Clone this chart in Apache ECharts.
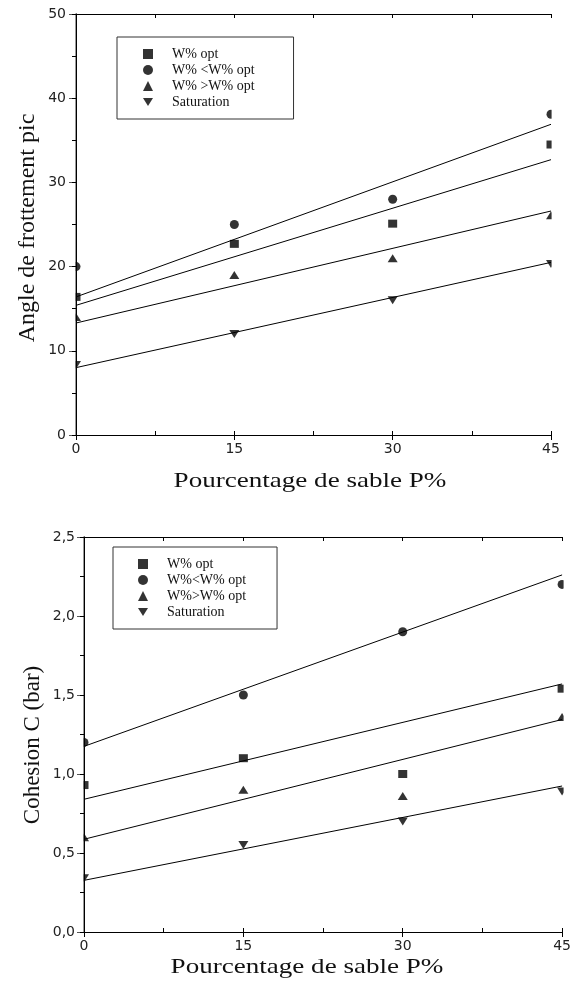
<!DOCTYPE html>
<html><head><meta charset="utf-8">
<script src="https://cdn.jsdelivr.net/npm/echarts@6/dist/echarts.min.js"></script>
<style>html,body{margin:0;padding:0;background:#fff}#c{width:574px;height:987px}</style>
</head><body><div id="c"></div>
<script>
// ---- data ----
const xVals = [0, 15, 30, 45];
const fitX = [0, 45];
const legendTop = ['W% opt', 'W% <W% opt', 'W% >W% opt', 'Saturation'];
const legendBot = ['W% opt', 'W%<W% opt', 'W%>W% opt', 'Saturation'];
// Angle de frottement (top)
const phiOpt  = [16.4, 22.7, 25.1, 34.5];
const phiLow  = [20.0, 25.0, 28.0, 38.1];
const phiHigh = [14.0, 19.0, 21.0, 26.1];
const phiSat  = [8.3, 12.0, 16.0, 20.3];
const phiOptFit  = [15.4, 32.7];
const phiLowFit  = [16.4, 36.9];
const phiHighFit = [13.3, 26.6];
const phiSatFit  = [8.0, 20.5];
// Cohesion (bottom)
const cOpt  = [0.93, 1.10, 1.00, 1.54];
const cLow  = [1.20, 1.50, 1.90, 2.20];
const cHigh = [0.60, 0.90, 0.86, 1.36];
const cSat  = [0.34, 0.55, 0.70, 0.89];
const cOptFit  = [0.84, 1.57];
const cLowFit  = [1.175, 2.26];
const cHighFit = [0.587, 1.345];
const cSatFit  = [0.327, 0.924];
const xTicks = [0, 15, 30, 45];
const yTicksTop = [0, 10, 20, 30, 40, 50];
const yTicksBot = ['0,0', '0,5', '1,0', '1,5', '2,0', '2,5'];

// ---- chart ----
const pair = (xs, ys) => xs.map((x, i) => [x, ys[i]]);
const downTri = 'path://M0,0 L10,0 L5,8 Z';
const symbols = [['rect', [9, 8]], ['circle', [9, 9]], ['triangle', [10, 8]], [downTri, [10, 8]]];
const labelFont = {fontFamily: 'DejaVu Sans', fontSize: 14, color: '#222'};

function axesFor(gi, ymax, yint, yminorInt, yfmt, labelMargin) {
  return {
    x: [
      {gridIndex: gi, type: 'value', min: 0, max: 45, interval: 15, position: 'bottom', z: 10,
       axisLine: {show: true, lineStyle: {color: '#000', width: 1}},
       axisTick: {show: true, length: 5, inside: false, lineStyle: {color: '#000'}},
       axisLabel: Object.assign({margin: 7, formatter: v => String(xTicks[xTicks.indexOf(v)] ?? v)}, labelFont),
       splitLine: {show: false}},
      {gridIndex: gi, type: 'value', min: 0, max: 45, interval: 7.5, position: 'bottom', z: 10,
       axisLine: {show: false}, axisTick: {show: true, inside: true, length: 4, lineStyle: {color: '#000'}},
       axisLabel: {show: false}, splitLine: {show: false}},
      {gridIndex: gi, type: 'value', min: 0, max: 45, interval: 7.5, position: 'top', z: 10,
       axisLine: {show: true, lineStyle: {color: '#000'}}, axisTick: {show: true, inside: true, length: 4, lineStyle: {color: '#000'}},
       axisLabel: {show: false}, splitLine: {show: false}}
    ],
    y: [
      {gridIndex: gi, type: 'value', min: 0, max: ymax, interval: yint, position: 'left', z: 10,
       axisLine: {show: true, lineStyle: {color: '#777', width: 1.5}},
       axisTick: {show: true, length: 7, lineStyle: {color: '#555'}},
       minorTick: {show: true, splitNumber: 2, length: 4, lineStyle: {color: '#555'}},
       axisLabel: Object.assign({margin: labelMargin, formatter: yfmt}, labelFont),
       splitLine: {show: false}, minorSplitLine: {show: false}},
      {gridIndex: gi, type: 'value', min: 0, max: ymax, interval: yminorInt, position: 'right', z: 10,
       axisLine: {show: true, lineStyle: {color: '#000'}}, axisTick: {show: true, inside: true, length: 4, lineStyle: {color: '#000'}},
       axisLabel: {show: false}, splitLine: {show: false}}
    ]
  };
}

const a0 = axesFor(0, 50, 10, 5, v => String(v), 10);
const a1 = axesFor(1, 2.5, 0.5, 0.25, v => yTicksBot[Math.round(v / 0.5)], 9);

const series = [];
function addChart(gi, names, pts, fits) {
  pts.forEach((ys, k) => {
    series.push({
      type: 'scatter', name: names[k], xAxisIndex: gi * 3, yAxisIndex: gi * 2,
      data: pair(xVals, ys), symbol: symbols[k][0], symbolSize: symbols[k][1],
      itemStyle: {color: '#000'}, z: 3, silent: true
    });
  });
  fits.forEach((ys, k) => {
    series.push({
      type: 'line', name: 'fit' + gi + '_' + k, xAxisIndex: gi * 3, yAxisIndex: gi * 2,
      data: pair(fitX, ys), showSymbol: false, symbol: 'none',
      lineStyle: {color: '#000', width: 1}, clip: false, z: 2, silent: true
    });
  });
}
addChart(0, legendTop, [phiOpt, phiLow, phiHigh, phiSat], [phiOptFit, phiLowFit, phiHighFit, phiSatFit]);
addChart(1, legendBot, [cOpt, cLow, cHigh, cSat], [cOptFit, cLowFit, cHighFit, cSatFit]);

// white masks that hide the parts of edge markers lying outside each plot frame
const mask = (x, y, w, h) => ({type: 'rect', z: 5, silent: true, shape: {x, y, width: w, height: h}, style: {fill: '#fff'}});

const legendText = {fontFamily: 'Liberation Serif', fontSize: 14, lineHeight: 14, color: '#111', padding: [0, 0, 0, 14]};
const option = {
  animation: false,
  backgroundColor: '#fff',
  grid: [
    {left: 76, top: 14, width: 475, height: 421, show: false},
    {left: 84, top: 537, width: 479, height: 395, show: false}
  ],
  xAxis: a0.x.concat(a1.x),
  yAxis: a0.y.concat(a1.y),
  legend: [
    {data: legendTop, orient: 'vertical', left: 117, top: 37, itemWidth: 10, itemHeight: 10, itemGap: 2,
     padding: [10, 39, 10, 26], borderColor: '#333', borderWidth: 1, textStyle: legendText, selectedMode: false,
     itemStyle: {color: '#000'}},
    {data: legendBot, orient: 'vertical', left: 113, top: 547, itemWidth: 10, itemHeight: 10, itemGap: 2,
     padding: [10, 31, 10, 25], borderColor: '#333', borderWidth: 1, textStyle: legendText, selectedMode: false,
     itemStyle: {color: '#000'}}
  ],
  graphic: [
    mask(68, 8, 7.3, 429),
    mask(551.6, 8, 22, 429),
    mask(76, 531, 7.3, 403),
    mask(563.6, 531, 10.4, 403),
    {type: 'text', z: 6, x: 310, y: 481, scaleX: 1.23, style: {text: 'Pourcentage de sable P%', font: '22px "Liberation Serif"', fill: '#111', align: 'center', verticalAlign: 'middle', textAlign: 'center', textVerticalAlign: 'middle'}},
    {type: 'text', z: 6, x: 307, y: 967, scaleX: 1.23, style: {text: 'Pourcentage de sable P%', font: '22px "Liberation Serif"', fill: '#111', align: 'center', verticalAlign: 'middle', textAlign: 'center', textVerticalAlign: 'middle'}},
    {type: 'text', z: 6, x: 28, y: 228, rotation: Math.PI / 2, style: {text: 'Angle de frottement pic', font: '24px "Liberation Serif"', fill: '#111', align: 'center', verticalAlign: 'middle', textAlign: 'center', textVerticalAlign: 'middle'}},
    {type: 'text', z: 6, x: 33, y: 745, rotation: Math.PI / 2, style: {text: 'Cohesion C (bar)', font: '23px "Liberation Serif"', fill: '#111', align: 'center', verticalAlign: 'middle', textAlign: 'center', textVerticalAlign: 'middle'}}
  ],
  series: series
};
const chart = echarts.init(document.getElementById('c'), null, {renderer: 'canvas'});
chart.setOption(option);
</script>
</body></html>
